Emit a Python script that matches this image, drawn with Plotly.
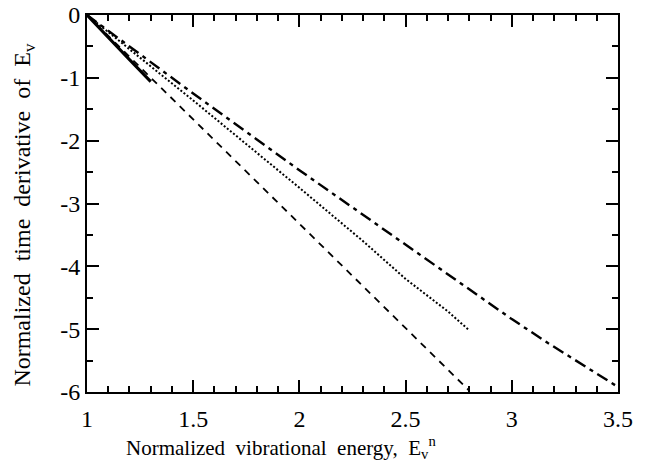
import plotly.graph_objects as go

# Data
solid_x = [1.0, 1.1, 1.2, 1.3]
solid_y = [0.0, -0.36, -0.71, -1.06]

dashed_x = [1.0, 1.5, 2.0, 2.5, 2.8]
dashed_y = [0.0, -1.66, -3.32, -4.98, -5.98]

dotted_x = [1.0, 1.2, 1.5, 2.0, 2.3, 2.5, 2.7, 2.8]
dotted_y = [0.0, -0.54, -1.36, -2.75, -3.6, -4.2, -4.72, -5.02]

dashdot_x = [1.0, 1.2, 1.5, 2.0, 2.5, 3.0, 3.17, 3.5]
dashdot_y = [0.0, -0.5, -1.25, -2.47, -3.66, -4.84, -5.22, -5.92]

x_ticks = [1, 1.5, 2, 2.5, 3, 3.5]
x_labels = ["1", "1.5", "2", "2.5", "3", "3.5"]
y_ticks = [0, -1, -2, -3, -4, -5, -6]
y_labels = ["0", "-1", "-2", "-3", "-4", "-5", "-6"]

x_title = "Normalized  vibrational  energy,  E<sub>v</sub><sup>n</sup>"
y_title = "Normalized  time  derivative  of  E<sub>v</sub>"

fig = go.Figure()
fig.add_trace(go.Scatter(x=dashed_x, y=dashed_y, mode="lines",
                         line=dict(color="black", width=1.8, dash="7px,6px")))
fig.add_trace(go.Scatter(x=dotted_x, y=dotted_y, mode="lines",
                         line=dict(color="black", width=2, dash="2px,2px")))
fig.add_trace(go.Scatter(x=dashdot_x, y=dashdot_y, mode="lines",
                         line=dict(color="black", width=2.4, dash="12px,5px,4px,5px")))
fig.add_trace(go.Scatter(x=solid_x, y=solid_y, mode="lines",
                         line=dict(color="black", width=3)))

axis_common = dict(
    showgrid=False, zeroline=False, showline=True, linecolor="black", linewidth=2,
    mirror="allticks", ticks="inside", ticklen=12, tickwidth=2, tickcolor="black",
    tickfont=dict(family="Liberation Serif", size=24, color="black"),
    automargin=False, ticklabeloverflow="allow",
)

fig.update_xaxes(
    range=[1, 3.5], tickvals=x_ticks, ticktext=x_labels, ticklabelstandoff=4,
    minor=dict(dtick=0.1, ticks="inside", ticklen=6, tickwidth=1.5, tickcolor="black", showgrid=False),
    **axis_common,
)
fig.update_yaxes(
    range=[-6, 0], tickvals=y_ticks, ticktext=y_labels,
    minor=dict(dtick=0.5, ticks="inside", ticklen=6, tickwidth=1.5, tickcolor="black", showgrid=False),
    **axis_common,
)

fig.add_annotation(text=x_title, xref="paper", yref="paper", x=0.365, y=-0.146,
                   xanchor="center", yanchor="middle", showarrow=False,
                   font=dict(family="Liberation Serif", size=21, color="black"))
fig.add_annotation(text=y_title, xref="paper", yref="paper", x=-0.119, y=0.47,
                   xanchor="center", yanchor="middle", showarrow=False, textangle=-90,
                   font=dict(family="Liberation Serif", size=24, color="black"))

# page body has an 8px default margin; size the figure to fill the rest of the window
fig.update_layout(
    width=644, height=458,
    margin=dict(l=79, r=34, t=7, b=74),
    paper_bgcolor="white", plot_bgcolor="white",
    showlegend=False,
)

fig.write_html("out.html")
